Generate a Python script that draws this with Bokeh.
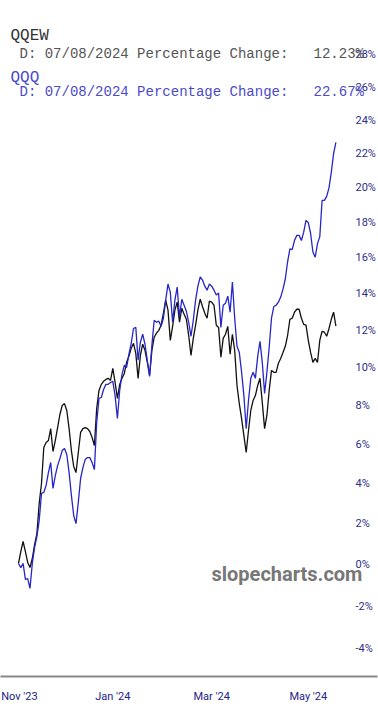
from bokeh.plotting import figure
from bokeh.models import Range1d, FixedTicker, CustomJSTickFormatter, Label
from bokeh.embed import file_html
from bokeh.resources import INLINE

# ---- data (percentage change since start) ----
qqew = [0.05, 0.63, 1.12, 0.63, 0.10, -0.15, 0.29, 0.97, 1.51, 3.0,
        4.0, 5.83, 6.08, 6.18, 6.80, 5.62, 6.18, 6.85, 7.53, 8.0,
        8.1, 7.74, 6.80, 5.67, 4.86, 4.55, 5.57, 6.60, 6.80, 6.85,
        6.80, 6.65, 6.34, 5.93, 7.84, 8.79, 9.11, 9.27, 9.37, 9.43,
        9.32, 9.96, 9.21, 8.37, 9.11, 9.43, 9.69, 10.28, 10.60, 11.03,
        11.30, 10.76, 9.43, 10.65, 11.25, 10.92, 10.28, 9.59, 10.92, 11.63,
        11.85, 12.0, 12.28, 12.93, 13.65, 13.1, 11.46, 12.22, 13.1, 13.54,
        12.44, 13.2, 12.88, 12.6, 11.72, 10.65, 11.57, 12.28, 13.1, 13.7,
        13.3, 12.93, 12.66, 13.6, 13.54, 13.37, 12.28, 12.16, 10.55, 11.57,
        11.79, 12.22, 10.71, 11.79, 10.92, 9.05, 8.1, 7.32, 6.44, 5.57,
        6.70, 7.74, 8.26, 8.52, 9.05, 9.43, 8.15, 6.8, 7.48, 8.79,
        9.85, 9.75, 9.75, 10.23, 10.49, 10.81, 11.14, 11.72, 12.6, 12.66,
        12.99, 13.15, 13.15, 12.66, 12.33, 12.28, 11.46, 10.81, 10.28, 10.49,
        10.28, 11.46, 11.95, 11.9, 11.68, 12.1, 12.6, 12.99, 12.23]

qqq = [0.05, -0.15, 0.05, -0.72, -0.68, -1.15, 0.05, 0.83, 1.36, 2.15,
       3.5, 3.55, 3.9, 4.55, 5.06, 3.75, 4.4, 4.9, 5.26, 5.67,
       5.78, 5.47, 4.55, 3.4, 2.4, 2.0, 3.05, 4.25, 4.8, 5.21,
       5.31, 5.31, 5.06, 4.7, 7.11, 8.37, 8.42, 8.84, 9.11, 9.11,
       9.21, 9.27, 8.52, 7.32, 8.79, 9.64, 10.12, 10.01, 10.71, 11.3,
       12.1, 12.16, 10.39, 11.36, 11.8, 11.25, 10.39, 9.53, 11.2, 12.55,
       12.44, 12.5, 12.22, 12.66, 13.65, 14.54, 14.09, 12.44, 13.65, 14.37,
       12.71, 13.7, 13.37, 13.04, 12.44, 11.68, 12.55, 13.65, 14.42, 14.93,
       14.76, 14.42, 14.2, 14.54, 14.42, 14.2, 13.93, 14.04, 12.16, 13.37,
       13.48, 13.87, 12.99, 14.65, 12.66, 11.14, 10.81, 9.75, 8.52, 6.80,
       8.26, 9.43, 9.75, 9.43, 10.6, 11.41, 10.28, 8.63, 9.75, 11.09,
       12.66, 13.3, 13.37, 13.54, 13.82, 14.26, 14.82, 15.78, 16.5, 16.46,
       16.98, 17.27, 17.27, 16.98, 17.45, 18.12, 18.0, 17.39, 16.33, 16.04,
       16.8, 17.2, 19.27, 19.27, 19.5, 20.0, 20.9, 22.0, 22.67]

days = list(range(len(qqew)))  # trading-day index

x_tick_days = [0.4, 41, 84, 126]
x_tick_labels = ["Nov '23", "Jan '24", "Mar '24", "May '24"]
y_tick_pct = [-4, -2, 0, 2, 4, 6, 8, 10, 12, 14, 16, 18, 20, 22, 24, 26, 28]
y_tick_labels = ["-4%", "-2%", "0%", "2%", "4%", "6%", "8%", "10%", "12%",
                 "14%", "16%", "18%", "20%", "22%", "24%", "26%", "28%"]

names = ["QQEW", "QQQ"]
last_date = "07/08/2024"
last_change = ["12.23%", "22.67%"]

# ---- figure ----
W, H = 378, 717
p = figure(width=W, height=H, y_axis_type="log", y_axis_location="right",
           x_range=Range1d(-7.826, 156.09), y_range=Range1d(0.94723, 1.31389),
           output_backend="svg", toolbar_location=None, title=None,
           min_border_left=0, min_border_top=0, min_border_bottom=41,
           min_border_right=1)
p.background_fill_color = "white"
p.border_fill_color = "white"
p.outline_line_color = None
p.xgrid.visible = False
p.ygrid.visible = False

y1 = [1 + v / 100 for v in qqew]
y2 = [1 + v / 100 for v in qqq]
p.line(days, y1, line_color="#111111", line_width=1.3)
p.line(days, y2, line_color="#2626c8", line_width=1.3)

fmt_code = """
let k = 0, b = 1e9;
for (let i = 0; i < tv.length; i++) {
  const d = Math.abs(tv[i] - tick);
  if (d < b) { b = d; k = i; }
}
return lb[k];
"""
yt = [1 + v / 100 for v in y_tick_pct]
p.yaxis.ticker = FixedTicker(ticks=yt, minor_ticks=[])
p.yaxis.formatter = CustomJSTickFormatter(args=dict(tv=yt, lb=y_tick_labels), code=fmt_code)
p.yaxis.axis_line_color = None
p.yaxis.major_tick_line_color = None
p.yaxis.minor_tick_line_color = None
p.yaxis.major_tick_out = 0
p.yaxis.major_tick_in = 0
p.yaxis.minor_tick_out = 0
p.yaxis.major_label_standoff = -22
p.yaxis.major_label_text_font = "Roboto"
p.yaxis.major_label_text_font_size = "11px"
p.yaxis.major_label_text_color = "#2e2e88"

p.xaxis.ticker = FixedTicker(ticks=x_tick_days, minor_ticks=[])
p.xaxis.formatter = CustomJSTickFormatter(args=dict(tv=x_tick_days, lb=x_tick_labels), code=fmt_code)
p.xaxis.axis_line_color = "#888888"
p.xaxis.axis_line_width = 2
p.xaxis.major_tick_line_color = None
p.xaxis.minor_tick_line_color = None
p.xaxis.major_tick_out = 0
p.xaxis.major_tick_in = 0
p.xaxis.minor_tick_out = 0
p.xaxis.major_label_standoff = 13
p.xaxis.major_label_text_font = "Roboto"
p.xaxis.major_label_text_font_size = "11px"
p.xaxis.major_label_text_color = "#22228a"

# ---- header texts (screen units from frame bottom) ----
mono = "Liberation Mono"
gap = "\u00a0\u00a0\u00a0"
p.add_layout(Label(x=10, y=632, x_units="screen", y_units="screen", text=names[0],
                   text_font=mono, text_font_size="16px", text_color="#333333"))
p.add_layout(Label(x=19, y=615, x_units="screen", y_units="screen",
                   text="D: " + last_date + " Percentage Change:" + gap + last_change[0],
                   text_font=mono, text_font_size="14px", text_color="#555555"))
p.add_layout(Label(x=10, y=590, x_units="screen", y_units="screen", text=names[1],
                   text_font=mono, text_font_size="16px", text_color="#4b4bc8"))
p.add_layout(Label(x=19, y=577, x_units="screen", y_units="screen",
                   text="D: " + last_date + " Percentage Change:" + gap + last_change[1],
                   text_font=mono, text_font_size="14px", text_color="#4b4bc8"))

# watermark
p.add_layout(Label(x=211, y=91, x_units="screen", y_units="screen", text="slopecharts.com",
                   text_font="Roboto", text_font_size="20px", text_font_style="bold",
                   text_color="#777777"))

open("out.html", "w").write(file_html(p, INLINE))
